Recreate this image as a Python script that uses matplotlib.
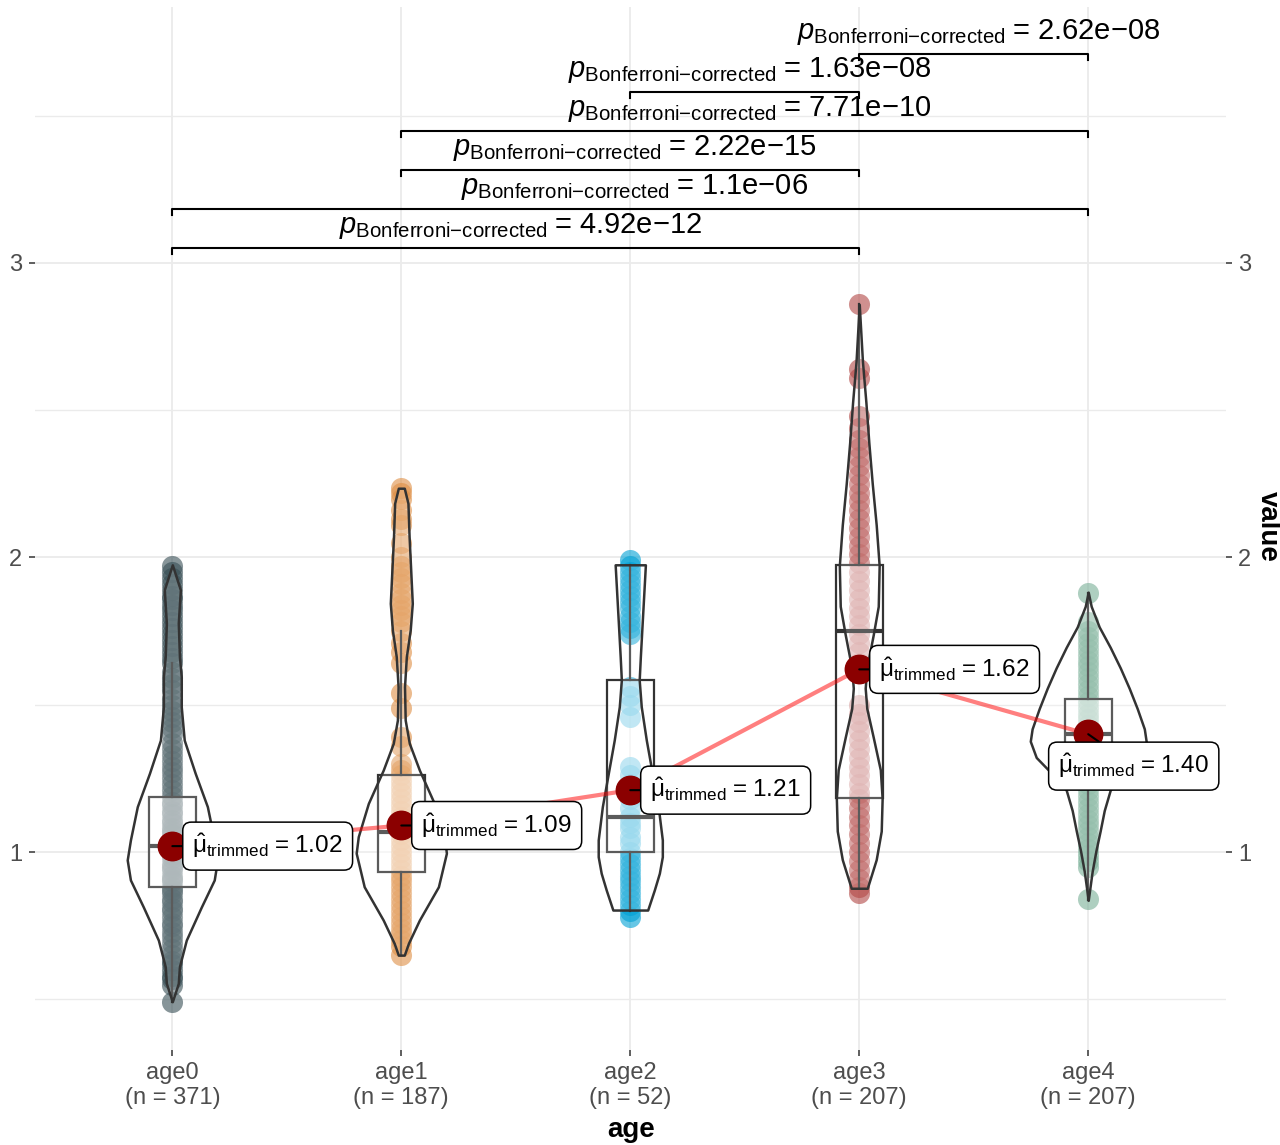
import numpy as np
import matplotlib.pyplot as plt
from matplotlib.patches import Rectangle

plt.rcParams['font.family'] = ['Liberation Sans', 'DejaVu Sans']
plt.rcParams['mathtext.fontset'] = 'custom'
plt.rcParams['mathtext.rm'] = 'Liberation Sans'
plt.rcParams['mathtext.it'] = 'Liberation Sans:italic'
plt.rcParams['mathtext.bf'] = 'Liberation Sans:bold'

groups = ['age0', 'age1', 'age2', 'age3', 'age4']
counts = [371, 187, 52, 207, 207]
colors = ['#374E55', '#DF8F44', '#00A1D5', '#B24745', '#79AF97']
trimmed_means = [1.02, 1.09, 1.21, 1.62, 1.40]

# boxplot stats
whisker_lo = [0.49, 0.65, 0.80, 0.877, 0.836]
q1 = [0.882, 0.933, 1.001, 1.182, 1.23]
median = [1.02, 1.068, 1.120, 1.750, 1.401]
q3 = [1.188, 1.261, 1.584, 1.976, 1.519]
whisker_hi = [1.64, 1.75, 1.975, 2.859, 1.88]

# violin outlines: y levels and half widths (x units)
violin_y = [
    [1.975, 1.890, 1.777, 1.663, 1.595, 1.493, 1.380, 1.267, 1.154, 1.041, 0.973, 0.905, 0.814, 0.701, 0.611, 0.554, 0.492],
    [2.235, 2.184, 2.071, 1.958, 1.844, 1.754, 1.663, 1.561, 1.448, 1.369, 1.278, 1.165, 1.052, 0.996, 0.882, 0.769, 0.690, 0.650],
    [1.975, 1.890, 1.777, 1.663, 1.584, 1.493, 1.380, 1.267, 1.154, 1.041, 0.984, 0.928, 0.871, 0.803],
    [2.859, 2.665, 2.527, 2.388, 2.249, 2.111, 1.972, 1.834, 1.737, 1.625, 1.556, 1.487, 1.390, 1.279, 1.182, 1.071, 0.974, 0.877],
    [1.882, 1.834, 1.764, 1.695, 1.625, 1.556, 1.487, 1.418, 1.376, 1.321, 1.265, 1.210, 1.141, 1.071, 1.002, 0.933, 0.836],
]
violin_w = [
    [0.0, 0.035, 0.026, 0.031, 0.039, 0.039, 0.052, 0.100, 0.153, 0.183, 0.197, 0.183, 0.127, 0.061, 0.031, 0.026, 0.0],
    [0.013, 0.029, 0.034, 0.041, 0.048, 0.039, 0.022, 0.014, 0.017, 0.035, 0.079, 0.144, 0.188, 0.197, 0.162, 0.079, 0.031, 0.013],
    [0.066, 0.060, 0.052, 0.044, 0.039, 0.048, 0.070, 0.096, 0.122, 0.140, 0.140, 0.127, 0.105, 0.076],
    [0.0, 0.014, 0.029, 0.042, 0.057, 0.074, 0.087, 0.083, 0.061, 0.033, 0.026, 0.033, 0.061, 0.092, 0.100, 0.096, 0.074, 0.035],
    [0.0, 0.013, 0.048, 0.096, 0.140, 0.179, 0.214, 0.245, 0.253, 0.227, 0.157, 0.096, 0.070, 0.052, 0.033, 0.017, 0.0],
]

# observations (distinct levels visible in the picture)
age0_values = [0.49, 0.55, 0.57, 0.58, 0.60, 0.62, 0.63, 0.65, 0.67, 0.69, 0.71, 0.73, 0.75, 0.76,
               0.78, 0.80, 0.81, 0.83, 0.84, 0.86, 0.87, 0.88, 0.90, 0.91, 0.92, 0.94, 0.95, 0.96,
               0.98, 0.99, 1.00, 1.01, 1.02, 1.03, 1.04, 1.06, 1.07, 1.08, 1.10, 1.11, 1.13, 1.14,
               1.16, 1.17, 1.19, 1.21, 1.23, 1.25, 1.27, 1.29, 1.31, 1.33, 1.35, 1.37, 1.40, 1.42,
               1.44, 1.46, 1.48, 1.50, 1.52, 1.55, 1.57, 1.59, 1.61, 1.64, 1.66, 1.68, 1.70, 1.72,
               1.74, 1.76, 1.78, 1.80, 1.82, 1.84, 1.86, 1.87, 1.89, 1.91, 1.93, 1.95, 1.97]
age1_values = [2.235, 2.22, 2.20, 2.16, 2.13, 2.11, 2.05, 2.00, 1.97, 1.95, 1.93, 1.91, 1.88, 1.86,
               1.84, 1.82, 1.80, 1.78, 1.75, 1.71, 1.68, 1.64, 1.54, 1.49, 1.39, 1.36, 1.30, 1.28,
               1.26, 1.24, 1.22, 1.20, 1.18, 1.16, 1.14, 1.12, 1.10, 1.08, 1.06, 1.04, 1.02, 1.00,
               0.98, 0.96, 0.94, 0.92, 0.90, 0.88, 0.86, 0.84, 0.82, 0.80, 0.78, 0.76, 0.74, 0.72,
               0.70, 0.68, 0.65]
age2_values = [1.99, 1.97, 1.95, 1.93, 1.91, 1.89, 1.87, 1.85, 1.83, 1.80, 1.78, 1.76, 1.74, 1.56,
               1.53, 1.50, 1.46, 1.29, 1.26, 1.23, 1.18, 1.15, 1.12, 1.10, 1.08, 1.05, 1.03, 1.00,
               0.98, 0.96, 0.94, 0.92, 0.90, 0.88, 0.86, 0.84, 0.82, 0.80, 0.78]
age3_values = [2.86, 2.64, 2.61, 2.48, 2.44, 2.40, 2.37, 2.34, 2.31, 2.28, 2.25, 2.22, 2.19, 2.16,
               2.13, 2.10, 2.07, 2.04, 2.01, 1.98, 1.95, 1.92, 1.89, 1.86, 1.83, 1.80, 1.77, 1.74,
               1.71, 1.68, 1.64, 1.50, 1.47, 1.44, 1.41, 1.38, 1.35, 1.32, 1.29, 1.26, 1.23, 1.20,
               1.18, 1.15, 1.12, 1.09, 1.06, 1.03, 1.00, 0.97, 0.94, 0.91, 0.88, 0.86]
age4_values = [1.88, 1.78, 1.75, 1.73, 1.71, 1.69, 1.67, 1.65, 1.63, 1.61, 1.59, 1.57, 1.55, 1.53,
               1.51, 1.49, 1.47, 1.45, 1.43, 1.41, 1.39, 1.37, 1.35, 1.33, 1.31, 1.29, 1.27, 1.25,
               1.23, 1.21, 1.19, 1.17, 1.15, 1.13, 1.11, 1.09, 1.07, 1.05, 1.03, 1.01, 0.99, 0.97,
               0.95, 0.84]
points = [age0_values, age1_values, age2_values, age3_values, age4_values]

# pairwise comparisons
pairs = [(0, 3), (0, 4), (1, 3), (1, 4), (2, 3), (3, 4)]
bracket_y = [3.051, 3.183, 3.316, 3.448, 3.581, 3.710]
p_values = ['4.92e-12', '1.1e-06', '2.22e-15', '7.71e-10', '1.63e-08', '2.62e-08']

fig = plt.figure(figsize=(12.8, 11.45), dpi=100)
ax = fig.add_axes([0.0273, 0.083, 0.9302, 0.911])
xs = np.arange(1, len(groups) + 1)

for i, x in enumerate(xs):
    ax.scatter(np.full(len(points[i]), x), points[i], s=230, color=colors[i],
               alpha=0.6, linewidths=0, zorder=2)
    # box
    bw = 0.103
    ax.add_patch(Rectangle((x - bw, q1[i]), 2 * bw, q3[i] - q1[i], facecolor=(1, 1, 1, 0.5),
                           edgecolor='#333333', lw=1.6, zorder=3))
    ax.plot([x, x], [q3[i], whisker_hi[i]], color='#333333', lw=1.6, zorder=3)
    ax.plot([x, x], [q1[i], whisker_lo[i]], color='#333333', lw=1.6, zorder=3)
    ax.plot([x - bw, x + bw], [median[i], median[i]], color='#333333', lw=3, zorder=3,
            solid_capstyle='butt')
    # violin
    vy = np.array(violin_y[i])
    vw = np.array(violin_w[i])
    ax.fill_betweenx(vy, x - vw, x + vw, facecolor=(1, 1, 1, 0.2), edgecolor='#333333',
                     lw=1.8, zorder=4)

ax.plot(xs, trimmed_means, color='red', alpha=0.5, lw=3, zorder=5)
ax.scatter(xs, trimmed_means, s=420, color='darkred', zorder=6)

label_offsets = [(14.5, 0), (14.5, 0), (14.5, 0), (14.5, 0), (-21.5, -23)]
for i, x in enumerate(xs):
    txt = (r'$\hat{\mathrm{\mu}}_{\mathrm{trimmed}}\hspace{0.1}=\hspace{0.1}\mathrm{%.2f}$'
           % trimmed_means[i])
    ax.annotate(txt, xy=(x, trimmed_means[i]), xytext=label_offsets[i],
                textcoords='offset points', ha='left', va='center', fontsize=17.5,
                bbox=dict(boxstyle='round,pad=0.4,rounding_size=0.35', fc='white',
                          ec='black', lw=1.1),
                arrowprops=dict(arrowstyle='-', color='black', lw=1.5, shrinkA=0, shrinkB=0),
                zorder=7)

for (a, b), yb, pv in zip(pairs, bracket_y, p_values):
    x1, x2 = xs[a], xs[b]
    ax.plot([x1, x1, x2, x2], [yb - 0.02, yb, yb, yb - 0.02], color='black', lw=1.5, zorder=3)
    mant, ex = pv.split('e-')
    ax.text((x1 + x2) / 2 + 0.02, yb + 0.05,
            r'$p_{\mathrm{Bonferroni{-}corrected}}\hspace{0.1}=\hspace{0.1}\mathrm{%se{-}%s}$'
            % (mant, ex),
            ha='center', va='baseline', fontsize=21, zorder=8)

ax.set_xlim(0.4, 5.6)
ax.set_ylim(0.328, 3.869)
ax.set_xticks(xs)
ax.set_xticklabels(['%s\n(n = %d)' % (g, n) for g, n in zip(groups, counts)],
                   linespacing=1.15)
ax.set_yticks([1, 2, 3])
ax.set_yticks([0.5, 1.5, 2.5, 3.5], minor=True)
ax.tick_params(axis='both', which='major', length=4.5, width=1.1, color='#333333',
               labelcolor='#4D4D4D', labelsize=17, pad=4.5)
ax.tick_params(axis='y', which='major', left=True, right=True, labelleft=True, labelright=True)
ax.tick_params(axis='y', which='minor', length=0)
ax.grid(which='major', color='#EBEBEB', lw=1.3)
ax.grid(which='minor', axis='y', color='#EBEBEB', lw=1.0)
ax.set_axisbelow(True)
for s in ax.spines.values():
    s.set_visible(False)

fig.text(631 / 1280, 1 - 1130 / 1145, 'age', ha='center', va='center', fontsize=20,
         fontweight='bold')
fig.text(1268 / 1280, 1 - 526 / 1145, 'value', ha='center', va='center', fontsize=20,
         fontweight='bold', rotation=270)

fig.savefig('out.png', dpi=100, facecolor='white')
